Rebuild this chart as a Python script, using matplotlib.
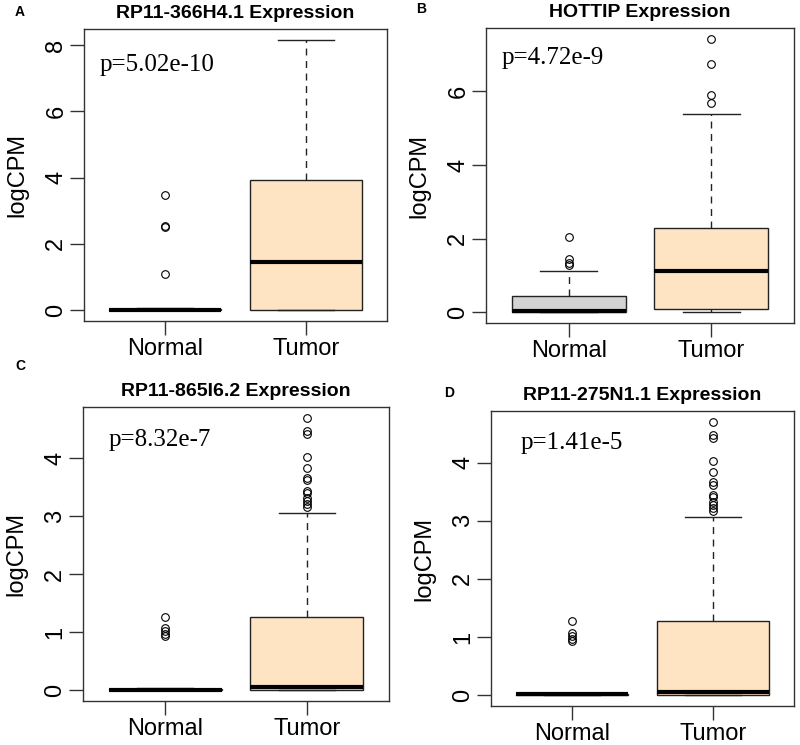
import matplotlib
matplotlib.use("Agg")
import matplotlib.pyplot as plt

plt.rcParams['font.family'] = ['Liberation Sans', 'DejaVu Sans']

groups = ["Normal", "Tumor"]
fills = ["lightgray", "bisque"]

# panel A - RP11-366H4.1
a_q1 = [0.0, 0.0]
a_med = [0.02, 1.45]
a_q3 = [0.05, 3.92]
a_lo = [0.0, 0.0]
a_hi = [0.08, 8.16]
a_out = [[3.47, 2.53, 2.51, 1.08], []]

# panel B - HOTTIP
b_q1 = [0.0, 0.08]
b_med = [0.02, 1.12]
b_q3 = [0.45, 2.30]
b_lo = [0.0, 0.0]
b_hi = [1.12, 5.38]
b_out = [[2.04, 1.44, 1.33, 1.27], [7.43, 6.75, 5.90, 5.68]]

# panel C - RP11-865I6.2
c_q1 = [0.0, 0.0]
c_med = [0.01, 0.05]
c_q3 = [0.02, 1.27]
c_lo = [0.0, 0.0]
c_hi = [0.03, 3.06]
c_out = [[1.27, 1.07, 1.02, 0.97, 0.93],
         [4.70, 4.47, 4.42, 4.03, 3.84, 3.67, 3.62, 3.44, 3.41,
          3.32, 3.27, 3.22, 3.17]]

# panel D - RP11-275N1.1
d_q1 = [0.0, 0.0]
d_med = [0.01, 0.05]
d_q3 = [0.02, 1.27]
d_lo = [0.0, 0.0]
d_hi = [0.03, 3.06]
d_out = [[1.27, 1.07, 1.02, 0.97, 0.93],
         [4.70, 4.47, 4.42, 4.03, 3.84, 3.67, 3.62, 3.44, 3.41,
          3.32, 3.27, 3.22, 3.17]]

titles = ["RP11-366H4.1 Expression", "HOTTIP Expression",
          "RP11-865I6.2 Expression", "RP11-275N1.1 Expression"]
pvals = ["p=5.02e-10", "p=4.72e-9", "p=8.32e-7", "p=1.41e-5"]
letters = ["A", "B", "C", "D"]
yticks = [[0, 2, 4, 6, 8], [0, 2, 4, 6], [0, 1, 2, 3, 4], [0, 1, 2, 3, 4]]

panels = [
    (a_q1, a_med, a_q3, a_lo, a_hi, a_out),
    (b_q1, b_med, b_q3, b_lo, b_hi, b_out),
    (c_q1, c_med, c_q3, c_lo, c_hi, c_out),
    (d_q1, d_med, d_q3, d_lo, d_hi, d_out),
]

W, H = 800, 745
# axes boxes in pixels: left, top, right, bottom
boxes = [(84, 29, 387, 321), (486, 28, 794, 323),
         (83, 407, 389, 701), (491, 411, 794, 706)]
ptext = [(0.05, 0.877), (0.051, 0.897), (0.082, 0.888), (0.096, 0.89)]
letter_pos = [(20, 12), (421, 9), (20, 366), (449, 393)]

fig = plt.figure(figsize=(8, 7.45), dpi=100)

for i, (q1, med, q3, lo, hi, out) in enumerate(panels):
    l, t, r, b = boxes[i]
    ax = fig.add_axes([l / W, (H - b) / H, (r - l) / W, (b - t) / H])
    stats = []
    for j in range(2):
        stats.append(dict(q1=q1[j], med=med[j], q3=q3[j],
                          whislo=lo[j], whishi=hi[j], fliers=out[j]))
    res = ax.bxp(stats, positions=[1, 2], widths=0.8, patch_artist=True,
                 showfliers=True,
                 boxprops=dict(linewidth=1.0, edgecolor='#222222'),
                 medianprops=dict(color='black', linewidth=3, solid_capstyle='butt'),
                 whiskerprops=dict(color='#222222', linewidth=1.0, linestyle=(0, (5, 4))),
                 capprops=dict(color='#222222', linewidth=1.0),
                 flierprops=dict(marker='o', markerfacecolor='none',
                                 markeredgecolor='black', markersize=5.5,
                                 markeredgewidth=0.8))
    for patch, c in zip(res['boxes'], fills):
        patch.set_facecolor(c)

    allv = lo + hi + [v for o in out for v in o]
    vmin, vmax = min(allv), max(allv)
    pad = 0.04 * (vmax - vmin)
    ax.set_ylim(vmin - pad, vmax + pad)
    ax.set_xlim(0.42, 2.58)

    ax.set_xticks([1, 2])
    ax.set_xticklabels(groups, fontsize=17)
    ax.set_yticks(yticks[i])
    ax.set_yticklabels([str(v) for v in yticks[i]], fontsize=17,
                       rotation=90, va='center')
    ax.tick_params(axis='both', length=10, width=1, color='#333333')
    ax.tick_params(axis='x', pad=2)
    ax.tick_params(axis='y', pad=2)
    for s in ax.spines.values():
        s.set_color('#333333')
        s.set_linewidth(1.0)
    ax.set_ylabel("logCPM", fontsize=17, labelpad=12)
    ax.set_title(titles[i], fontsize=14, fontweight='bold', pad=8)
    ax.text(ptext[i][0], ptext[i][1], pvals[i], transform=ax.transAxes,
            family=['Liberation Serif', 'DejaVu Serif'], fontsize=18,
            ha='left', va='center')
    lx, ly = letter_pos[i]
    fig.text(lx / W, 1 - ly / H, letters[i], fontsize=10, fontweight='bold',
             ha='center', va='center')

fig.savefig("out.png", dpi=100)
